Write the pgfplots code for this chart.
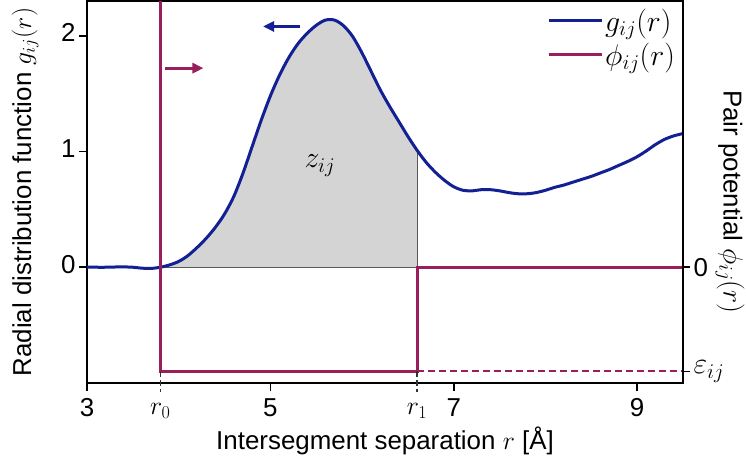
\RequirePackage{fix-cm}
\documentclass[border=0pt]{standalone}
\usepackage{fontspec}
\setmainfont{Liberation Sans}
\usepackage{pgfplots}
\usepackage{pgfplotstable}
\pgfplotsset{compat=1.18}
\usetikzlibrary{arrows.meta}
\definecolor{gblue}{RGB}{18,32,148}
\definecolor{ppurple}{RGB}{152,30,92}
\definecolor{shade}{RGB}{212,212,212}

\pgfplotstableread{
r g
3.0 0.000
3.1 0.000
3.2 0.000
3.3 0.002
3.4 0.003
3.5 0.000
3.6 -0.008
3.7 -0.010
3.8 0.000
3.9 0.020
4.0 0.050
4.1 0.100
4.2 0.170
4.3 0.250
4.4 0.345
4.5 0.460
4.6 0.610
4.7 0.810
4.8 1.040
4.9 1.270
5.0 1.480
5.1 1.660
5.2 1.810
5.3 1.930
5.4 2.020
5.5 2.090
5.6 2.135
5.7 2.135
5.8 2.085
5.9 1.990
6.0 1.850
6.1 1.690
6.2 1.530
6.3 1.390
6.4 1.260
6.5 1.130
6.6 1.010
6.7 0.905
6.8 0.820
6.9 0.750
7.0 0.695
7.1 0.665
7.2 0.660
7.3 0.670
7.4 0.670
7.5 0.660
7.6 0.645
7.7 0.635
7.8 0.635
7.9 0.645
8.0 0.665
8.1 0.690
8.2 0.710
8.3 0.735
8.4 0.760
8.5 0.785
8.6 0.815
8.7 0.845
8.8 0.880
8.9 0.915
9.0 0.955
9.1 1.005
9.2 1.060
9.3 1.105
9.4 1.135
9.5 1.155
}\gdata

\pgfplotstableread{
r phi
3.8 2.3
3.8 -0.9
6.6 -0.9
6.6 0
9.5 0
}\phidata

\begin{document}
\begin{tikzpicture}[font=\fontsize{26}{31}\selectfont]
\begin{axis}[
  scale only axis, width=596bp, height=382bp,
  xmin=3, xmax=9.5, ymin=-1, ymax=2.3,
  clip=false,
  axis line style={line width=1.6bp, black},
  every tick/.style={black, line width=1.6bp},
  tick align=outside, major tick length=8bp,
  xtick pos=lower, ytick pos=left,
  xtick={3,5,7,9}, ytick={0,1,2},
  extra x ticks={3.8,6.6}, extra x tick labels={$r_0$,$r_1$},
  extra x tick style={major tick length=0bp, xticklabel style={yshift=-6bp}},
  typeset ticklabels with strut,
  /pgf/number format/assume math mode=true,
  xlabel={Intersegment separation $r$ [Å]},
  ylabel={Radial distribution function $g_{ij}(r)$},
  xlabel style={at={(axis description cs:0.5,-0.152)}, anchor=center},
  ylabel style={at={(axis description cs:-0.104,0.5)}, anchor=center},
  legend style={at={(axis description cs:0.995,0.99)}, anchor=north east,
    draw=none, fill=none, font=\fontsize{30}{36}\selectfont,
    row sep=6bp, /tikz/every even column/.append style={column sep=8bp}},
  legend cell align=left,
  legend image code/.code={\draw[#1, line width=3bp] (0bp,0bp) -- (53bp,0bp);},
]
% shaded area z_ij
\addplot[fill=shade, draw=none, restrict x to domain=3.8:6.6, forget plot]
  table[x=r,y=g]{\gdata} \closedcycle;
\addplot[black!65, line width=1bp, forget plot] coordinates {(3.8,0) (6.6,0) (6.6,1.01)};
% g_ij(r)
\addplot[gblue, line width=3bp, smooth] table[x=r,y=g]{\gdata};
\addlegendentry{$g_{ij}(r)$}
% phi_ij(r)
\addplot[ppurple, line width=3bp, sharp plot] table[x=r,y=phi]{\phidata};
\addlegendentry{$\phi_{ij}(r)$}
\addplot[ppurple, line width=2bp, dash pattern=on 7bp off 4bp, forget plot]
  coordinates {(6.6,-0.9) (9.5,-0.9)};
% dashed ticks at r0, r1
\draw[black!80, line width=1.6bp, dash pattern=on 6bp off 3bp]
  (axis cs:3.8,-0.9) -- ([yshift=-9bp]axis cs:3.8,-1);
\draw[black!80, line width=1.6bp, dash pattern=on 6bp off 3bp]
  (axis cs:6.6,-0.9) -- ([yshift=-9bp]axis cs:6.6,-1);
% arrows
\draw[ppurple, line width=2.8bp, -{Triangle[length=11bp,width=10bp]}]
  (axis cs:3.85,1.72) -- (axis cs:4.27,1.72);
\draw[gblue, line width=2.8bp, -{Triangle[length=11bp,width=10bp]}]
  (axis cs:5.32,2.08) -- (axis cs:4.92,2.08);
\node[font=\fontsize{30}{36}\selectfont] at (axis cs:5.54,0.88) {$z_{ij}$};
\coordinate (sw) at (rel axis cs:0,0);
\coordinate (ne) at (rel axis cs:1,1);
\end{axis}
\begin{axis}[
  scale only axis, width=596bp, height=382bp,
  xmin=3, xmax=9.5, ymin=-1, ymax=2.3,
  axis x line=none, axis y line*=right,
  axis line style={line width=1.6bp, black},
  every tick/.style={black, line width=1.6bp},
  tick align=outside, major tick length=7bp,
  ytick={-0.9,0}, yticklabels={{\fontsize{30}{36}\selectfont$\varepsilon_{ij}$},0},
  ylabel={Pair potential {\fontsize{28}{34}\selectfont$\phi_{ij}(r)$}},
  ylabel style={at={(axis description cs:1.079,0.474)}, anchor=center, rotate=180},
]
\end{axis}
\pgfresetboundingbox
\path[use as bounding box] ([shift={(-87bp,-86bp)}]sw) rectangle ([shift={(63bp,1bp)}]ne);
\end{tikzpicture}
\end{document}
